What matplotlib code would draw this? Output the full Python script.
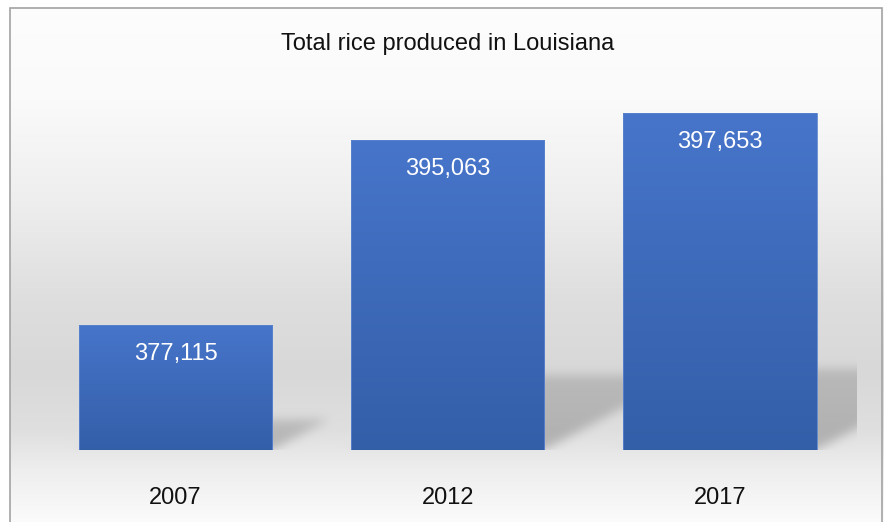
import numpy as np
import matplotlib.pyplot as plt
from matplotlib.colors import LinearSegmentedColormap
from matplotlib.patches import Rectangle

plt.rcParams['font.family'] = ['Liberation Sans', 'DejaVu Sans']

years = ['2007', '2012', '2017']
rice = [377115, 395063, 397653]
title = 'Total rice produced in Louisiana'

W, H = 884, 522
fig = plt.figure(figsize=(W / 100, H / 100), dpi=100)

# full-figure layer for the backdrop gradient and the bar shadows
bg = fig.add_axes([0, 0, 1, 1])
bg.set_xlim(0, W)
bg.set_ylim(0, H)
bg.axis('off')

ax = fig.add_axes([39.5 / W, (H - 450) / H, (856 - 39.5) / W, (450 - 88.7) / H])
ax.patch.set_visible(False)
ax.set_xlim(-0.5, 2.5)
ax.set_ylim(365000, 400000)

xpos = np.arange(len(years))
bar_w = 0.71
bars = ax.bar(xpos, np.array(rice) - 365000, bottom=365000, width=bar_w,
              color='none', edgecolor='#5a84cf', linewidth=0.6, zorder=2)

# vertical blue gradient inside each bar
blue = LinearSegmentedColormap.from_list('blue', ['#335ea8', '#4775ca'])
grad = np.linspace(0, 1, 256).reshape(-1, 1)
for b in bars:
    x0, y0 = b.get_x(), b.get_y()
    im = ax.imshow(grad, cmap=blue, origin='lower', aspect='auto',
                   extent=(x0, x0 + b.get_width(), y0, y0 + b.get_height()),
                   zorder=1.5)
    im.set_clip_path(b)
ax.set_xlim(-0.5, 2.5)
ax.set_ylim(365000, 400000)

for x, v in zip(xpos, rice):
    ax.annotate(f'{v:,}', (x, v), xytext=(0, -25.2), textcoords='offset points',
                ha='center', va='baseline', color='white', fontsize=17, zorder=3)

ax.set_xticks(xpos)
ax.set_xticklabels(years, fontsize=17, color='#111111')
ax.tick_params(axis='x', length=0, pad=27)
ax.set_yticks([])
for s in ax.spines.values():
    s.set_visible(False)

# backdrop: light at the top, grey towards the floor, light again below
rows = np.arange(H)[::-1]  # distance from the top edge, origin='lower'
stops_y = [0, 100, 200, 300, 370, 430, 470, 522]
stops_v = [253, 250, 238, 222, 216, 223, 238, 251]
shade = np.interp(rows, stops_y, stops_v) / 255.0
img = np.repeat(shade[:, None], W, axis=1)

# perspective shadows cast to the right of each bar
yy, xx = np.mgrid[0:H, 0:W]
mask = np.zeros((H, W))
base_px = ax.transData.transform((0, 365000))[1]
for b in bars:
    (px0, py0) = ax.transData.transform((b.get_x(), b.get_y()))
    (px1, py1) = ax.transData.transform((b.get_x() + b.get_width(), b.get_y() + b.get_height()))
    h = py1 - py0
    dy, dx = 0.24 * h, 0.45 * h
    up = yy - base_px
    inside = (up >= 0) & (up <= dy)
    shift = up * dx / dy
    inside &= (xx >= px0 + shift) & (xx <= px1 + shift)
    fade = 1 - 0.35 * np.clip(up / dy, 0, 1)
    mask = np.maximum(mask, inside * fade)

sig = 5.0
k = np.exp(-0.5 * (np.arange(-15, 16) / sig) ** 2)
k /= k.sum()
mask = np.apply_along_axis(lambda r: np.convolve(r, k, mode='same'), 1, mask)
mask = np.apply_along_axis(lambda c: np.convolve(c, k, mode='same'), 0, mask)
plot_right = ax.transAxes.transform((1, 0))[0]
mask[(xx > plot_right) | (yy < base_px)] = 0
img = img * (1 - 0.22 * mask)

# plain white outside the chart frame
img[(xx < 10) | (yy > H - 8)] = 1.0
bg.imshow(np.dstack([img] * 3), origin='lower', extent=(0, W, 0, H),
          aspect='auto', interpolation='bilinear')
bg.add_patch(Rectangle((10, -10), 872, H - 8 + 10, fill=False,
                       edgecolor='#a3a3a3', linewidth=1.2))

fig.text(447.75 / W, 1 - 50 / H, title, ha='center', va='baseline',
         fontsize=17, color='#111111')

fig.savefig('out.png', dpi=100)
